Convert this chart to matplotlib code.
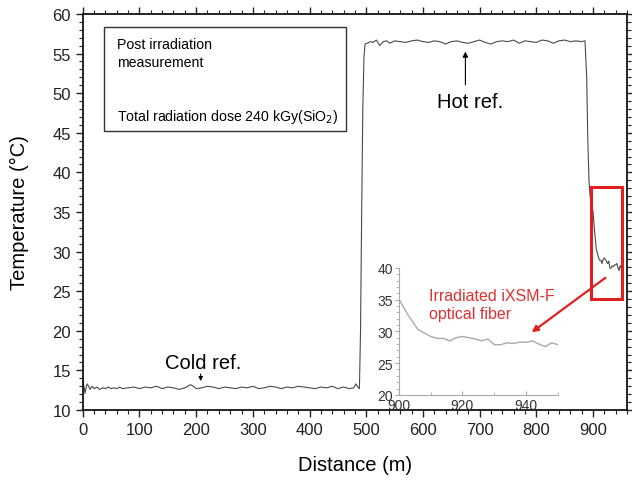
import numpy as np
import matplotlib.pyplot as plt
from matplotlib.patches import Rectangle
from matplotlib.ticker import MultipleLocator

plt.rcParams['font.family'] = ['Liberation Sans', 'DejaVu Sans']

# Trace, split by section: distance (m), temperature (degC)
cold_x = [0, 2, 4, 6, 8, 10, 13, 16, 20, 25,
          30, 35, 40, 45, 50, 55, 60, 65, 70, 80,
          90, 100, 110, 120, 130, 140, 150, 160, 170, 180,
          190, 195, 200, 210, 220, 230, 240, 250, 260, 270,
          280, 290, 300, 310, 320, 330, 340, 350, 360, 370,
          380, 390, 400, 410, 420, 430, 440, 450, 460, 470,
          478, 482, 486, 488]
cold_t = [13.7, 13.0, 12.1, 12.9, 13.3, 13.0, 12.6, 13.0, 12.7, 12.9,
          12.6, 12.8, 12.7, 12.9, 12.7, 12.8, 12.7, 12.9, 12.7, 12.8,
          12.9, 12.7, 12.9, 12.8, 13.0, 12.7, 12.9, 12.8, 12.6, 12.8,
          13.2, 13.0, 12.7, 12.8, 13.0, 12.9, 12.7, 12.9, 12.8, 12.7,
          12.9, 12.8, 13.0, 12.7, 12.8, 13.0, 12.9, 12.7, 12.9, 12.8,
          13.0, 12.9, 12.8, 12.7, 12.9, 12.8, 13.0, 12.7, 12.9, 12.7,
          12.8, 13.3, 12.8, 12.7]

rise_x = [490, 492, 494, 496, 498]
rise_t = [20.0, 35.0, 48.0, 54.5, 56.2]

hot_x = [502, 507, 512, 518, 524, 530, 536, 542, 550, 560,
         570, 580, 590, 600, 610, 620, 630, 640, 650, 660,
         670, 680, 690, 700, 710, 720, 730, 740, 750, 760,
         770, 780, 790, 800, 810, 820, 830, 840, 850, 860,
         870, 880, 886]
hot_t = [56.3, 56.5, 56.4, 56.7, 56.0, 56.5, 56.6, 56.3, 56.6, 56.5,
         56.4, 56.6, 56.7, 56.5, 56.4, 56.6, 56.5, 56.2, 56.5, 56.6,
         56.4, 56.3, 56.5, 56.7, 56.4, 56.2, 56.5, 56.6, 56.5, 56.7,
         56.3, 56.6, 56.5, 56.4, 56.7, 56.6, 56.3, 56.6, 56.7, 56.5,
         56.6, 56.5, 56.6]

drop_x = [889, 891, 893, 895, 897]
drop_t = [52.0, 44.0, 39.0, 37.0, 36.0]

# Irradiated fiber section (also shown in the inset)
fiber_x = [900, 903, 906, 910, 912, 914, 916, 918, 920, 922, 924, 926, 928,
           930, 932, 934, 936, 938, 940, 942, 944, 946, 948, 950]
fiber_t = [35.1, 32.5, 30.3, 29.2, 28.9, 28.9, 28.5, 29.0, 29.2, 29.0,
           28.8, 28.5, 28.8, 27.9, 27.9, 28.2, 28.1, 28.3, 28.3, 28.5,
           28.0, 27.6, 28.2, 27.9]

end_x = [952]
end_t = [30.5]

distance = np.concatenate([cold_x, rise_x, hot_x, drop_x, fiber_x, end_x])
temperature = np.concatenate([cold_t, rise_t, hot_t, drop_t, fiber_t, end_t])

fig = plt.figure(figsize=(6.32, 4.81), dpi=100)
ax = fig.add_axes([0.131, 0.1455, 0.861, 0.8235])

ax.plot(distance, temperature, color='#4a4a4a', lw=0.8)
ax.set_xlim(0, 960)
ax.set_ylim(10, 60)
ax.xaxis.set_major_locator(MultipleLocator(100))
ax.xaxis.set_minor_locator(MultipleLocator(20))
ax.yaxis.set_major_locator(MultipleLocator(5))
ax.yaxis.set_minor_locator(MultipleLocator(1))
ax.tick_params(which='both', direction='out', top=True, right=True, labelsize=12,
               colors='#222222')
ax.tick_params(which='major', length=5, width=1)
ax.tick_params(which='minor', length=3, width=0.8)
for s in ax.spines.values():
    s.set_linewidth(1.2)
ax.set_xlabel('Distance (m)', fontsize=14.5, labelpad=13)
ax.set_ylabel('Temperature (\u00b0C)', fontsize=14.5, labelpad=17)

# info box
ax.add_patch(Rectangle((37, 45.2), 427, 13.2, fill=False, ec='#333333', lw=1))
ax.text(60, 57.1, 'Post irradiation\nmeasurement', fontsize=10.2, va='top',
        linespacing=1.35)
ax.text(60, 46.0, 'Total radiation dose 240 kGy(SiO$_2$)', fontsize=10.2,
        va='bottom')

# reference labels
ax.annotate('', xy=(675, 55.6), xytext=(675, 50.7),
            arrowprops=dict(arrowstyle='-|>', color='black', lw=0.8,
                            mutation_scale=8))
ax.text(683, 49.0, 'Hot ref.', fontsize=14.5, ha='center', va='center')
ax.annotate('', xy=(208, 13.3), xytext=(208, 14.9),
            arrowprops=dict(arrowstyle='-|>', color='black', lw=0.8,
                            mutation_scale=6))
ax.text(212, 16.0, 'Cold ref.', fontsize=14.5, ha='center', va='center')

# red highlight box and arrow
ax.add_patch(Rectangle((896, 24.0), 56, 14.2, fill=False, ec='#e02020', lw=2.2,
                       zorder=5))
ax.annotate('', xy=(788, 19.6), xytext=(926, 26.9),
            arrowprops=dict(arrowstyle='-|>', color='#e02020', lw=1.6,
                            mutation_scale=9), zorder=6)

# inset
ins = fig.add_axes([0.631, 0.177, 0.252, 0.264])
ins.patch.set_alpha(0)
ins.plot(fiber_x, fiber_t, color='#aaaaaa', lw=1)
ins.set_xlim(900, 950)
ins.set_ylim(20, 40)
ins.xaxis.set_major_locator(MultipleLocator(20))
ins.xaxis.set_minor_locator(MultipleLocator(10))
ins.yaxis.set_major_locator(MultipleLocator(5))
ins.yaxis.set_minor_locator(MultipleLocator(1))
for side in ['top', 'right']:
    ins.spines[side].set_visible(False)
for side in ['left', 'bottom']:
    ins.spines[side].set_color('#aaaaaa')
ins.tick_params(which='both', colors='#aaaaaa', labelcolor='#333333', labelsize=10,
                pad=1)
ins.tick_params(axis='x', which='both', direction='in', pad=2)
ins.tick_params(which='major', length=3)
ins.tick_params(which='minor', length=2)
ins.text(909.5, 34.2, 'Irradiated iXSM-F\noptical fiber', color='#e03030',
         fontsize=11.5, va='center', linespacing=1.25)

fig.savefig('out.png', dpi=100)
